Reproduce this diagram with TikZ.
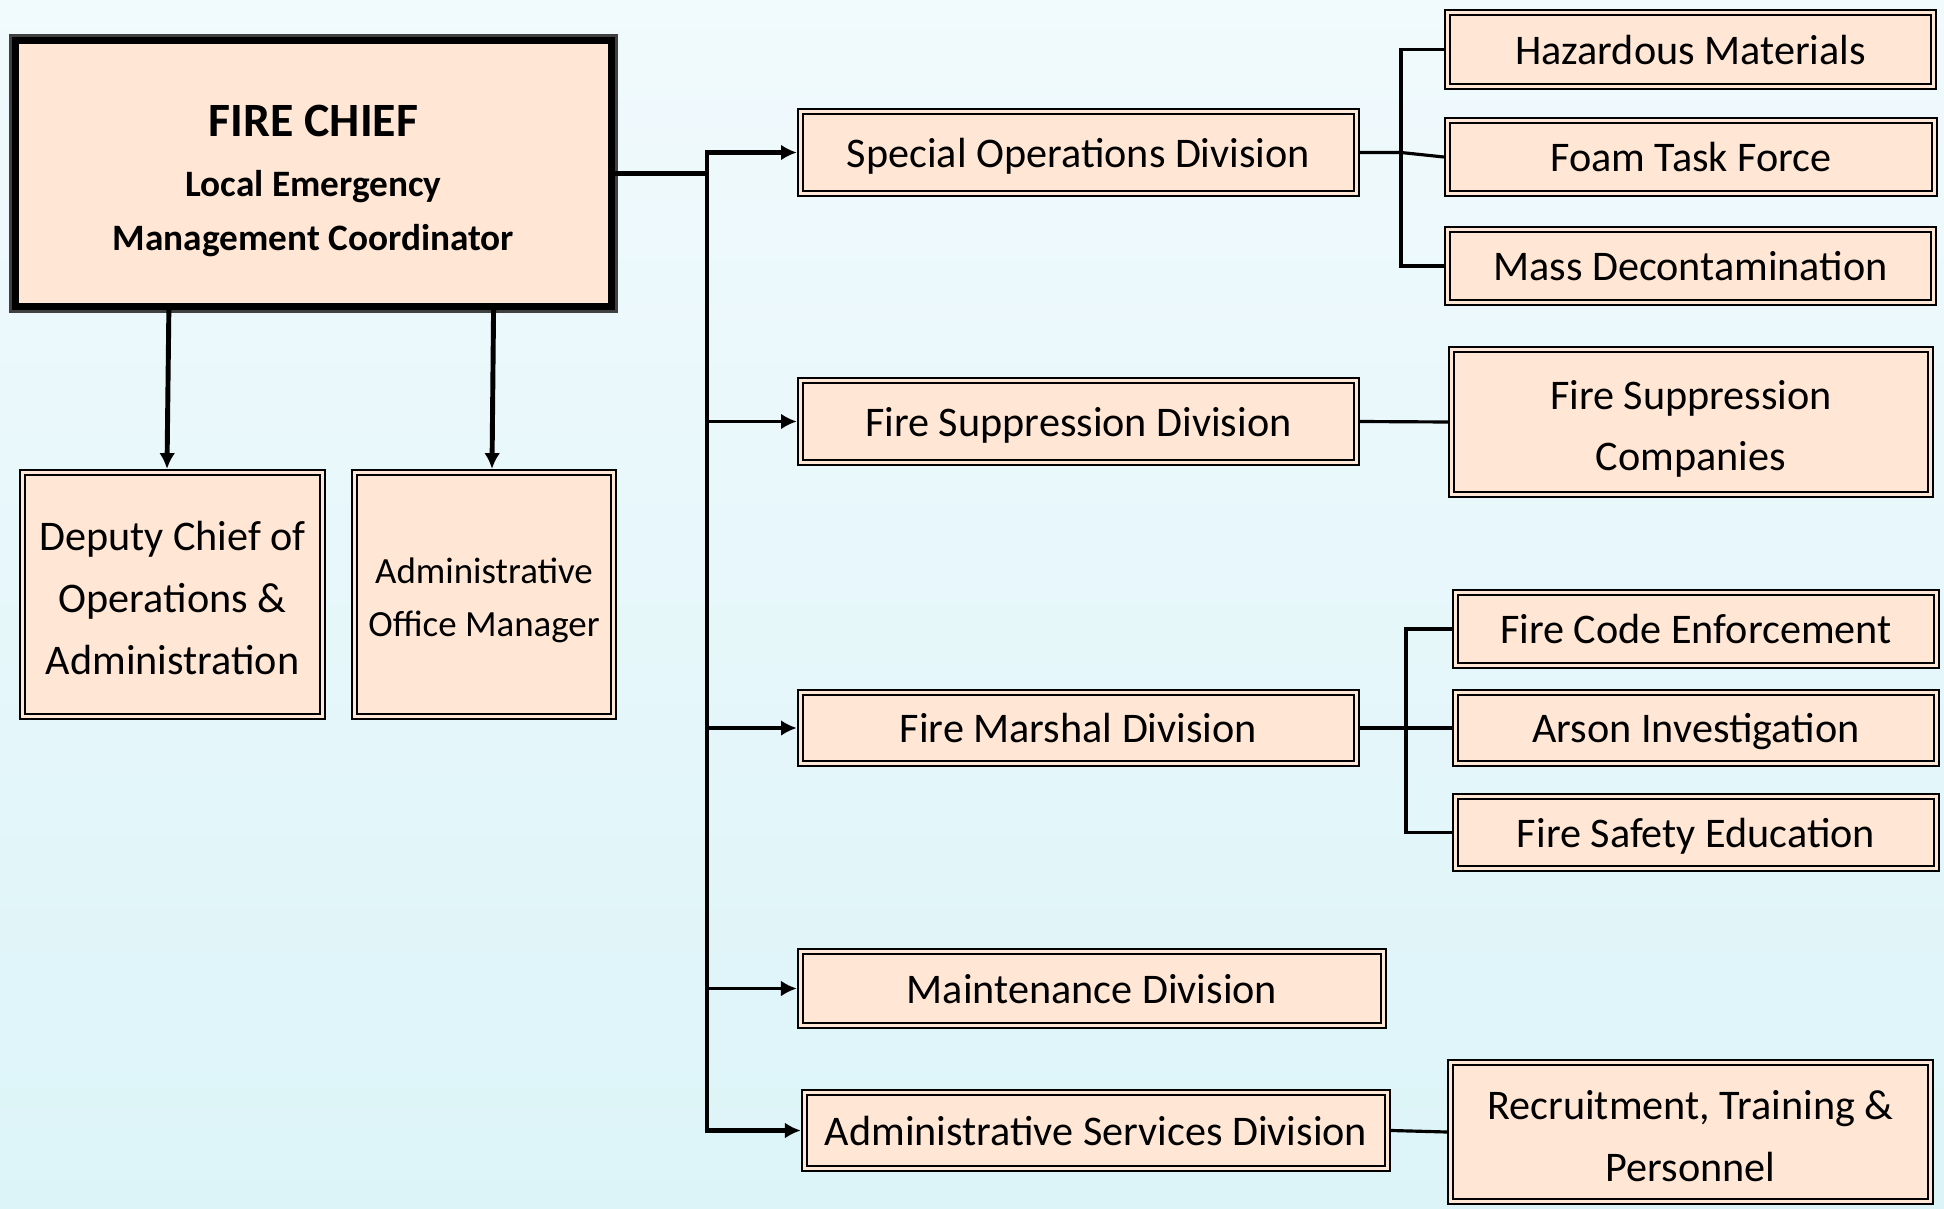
\documentclass[tikz,border=0pt]{standalone}
\usepackage{fontspec}
\setmainfont{Carlito}
\usetikzlibrary{arrows.meta}
\definecolor{boxfill}{HTML}{FFE6D5}
\definecolor{bgtop}{HTML}{F1FAFD}
\definecolor{bgbottom}{HTML}{DCF4F8}

\begin{document}
\begin{tikzpicture}[x=0.01cm,y=-0.01cm,
	unit/.style={draw=black,line width=0.55pt,double=boxfill,double distance=0.9pt,fill=boxfill,align=center,inner sep=0pt,outer sep=1pt,font=\fontsize{12}{17.5}\selectfont},
	oneline/.style={unit,text height=10.5pt,text depth=2pt},
	multiline/.style={unit,text depth=2pt},
	link/.style={line width=1.4pt},
	feed/.style={line width=1pt},
	branch/.style={line width=0.9pt},
	tip/.style={-{Latex[length=4.5pt,width=4.5pt]}}]
	\useasboundingbox (0,0) rectangle (1944,1209);
	\shade[top color=bgtop,bottom color=bgbottom] (0,0) rectangle (1944,1209);
	\draw[fill=boxfill,draw=black!75,line width=0.6pt] (10.5,35.5) rectangle (616.5,311.5);
	\node[draw=black,line width=2pt,outer sep=0pt,inner sep=0pt,minimum width=5.95cm,minimum height=2.65cm,align=center,text depth=0.5pt,font=\bfseries\fontsize{10.6}{15.6}\selectfont] (chief) at (313.5,173.5) {{\fontsize{13.6}{17}\selectfont\strut FIRE CHIEF}\\\strut Local Emergency\\\strut Management Coordinator};
	\node[multiline,minimum width=3.00cm,minimum height=2.44cm] (deputy) at (172.5,594.5) {\strut Deputy Chief of\\\strut Operations \&\\\strut Administration};
	\node[multiline,minimum width=2.59cm,minimum height=2.44cm,text depth=1.7pt,font=\fontsize{10.5}{15}\selectfont] (office) at (484,594.5) {\strut Administrative\\\strut Office Manager};
	\node[oneline,minimum width=5.56cm,minimum height=0.82cm] (special) at (1078.5,152.5) {Special Operations Division};
	\node[oneline,minimum width=5.56cm,minimum height=0.82cm] (suppr) at (1078.5,421.5) {Fire Suppression Division};
	\node[oneline,minimum width=5.56cm,minimum height=0.71cm] (marshal) at (1078.5,728) {Fire Marshal Division};
	\node[oneline,minimum width=5.83cm,minimum height=0.74cm] (maint) at (1092,988.5) {Maintenance Division};
	\node[oneline,minimum width=5.83cm,minimum height=0.76cm] (adminsvc) at (1096,1130.5) {Administrative Services Division};
	\node[oneline,minimum width=4.86cm,minimum height=0.74cm] (hazmat) at (1690.5,49.5) {Hazardous Materials};
	\node[oneline,minimum width=4.87cm,minimum height=0.73cm] (foam) at (1691,157) {Foam Task Force};
	\node[oneline,minimum width=4.86cm,minimum height=0.73cm] (decon) at (1690.5,266) {Mass Decontamination};
	\node[multiline,minimum width=4.79cm,minimum height=1.45cm] (companies) at (1691,422) {\strut Fire Suppression\\\strut Companies};
	\node[oneline,minimum width=4.81cm,minimum height=0.73cm] (code) at (1696,629) {Fire Code Enforcement};
	\node[oneline,minimum width=4.81cm,minimum height=0.71cm] (arson) at (1696,728) {Arson Investigation};
	\node[oneline,minimum width=4.81cm,minimum height=0.72cm] (safety) at (1696,832.5) {Fire Safety Education};
	\node[multiline,minimum width=4.80cm,minimum height=1.39cm,text depth=1.75pt] (recruit) at (1690.5,1132) {\strut Recruitment, Training \&\\\strut Personnel};
	\coordinate (bustop) at (707,152.5);
	\coordinate (sobranch) at (1401,152.5);
	\coordinate (fmbranch) at (1406,728);
	\draw[link,tip] ([xshift=-1.445cm]chief.south) -- ([xshift=-0.055cm]deputy.north);
	\draw[link,tip] ([xshift=1.8cm]chief.south) -- ([xshift=0.08cm]office.north);
	\draw[link] (chief.east) -- (chief.east -| bustop);
	\draw[link,{Latex[length=4.5pt,width=4.5pt]}-{Latex[length=4.5pt,width=4.5pt]}] (adminsvc.west) -| (bustop) -- (special.west);
	\draw[feed,tip] (bustop |- suppr.west) -- (suppr.west);
	\draw[feed,tip] (bustop |- marshal.west) -- (marshal.west);
	\draw[feed,tip] (bustop |- maint.west) -- (maint.west);
	\draw[branch] (special.east) -- (sobranch) -- (foam.west);
	\draw[branch] (hazmat.west) -| (sobranch) |- (decon.west);
	\draw[branch] (suppr.east) -- (companies.west);
	\draw[branch] (marshal.east) -- (arson.west);
	\draw[branch] (code.west) -| (fmbranch) |- (safety.west);
	\draw[branch] (adminsvc.east) -- (recruit.west);
\end{tikzpicture}
\end{document}
